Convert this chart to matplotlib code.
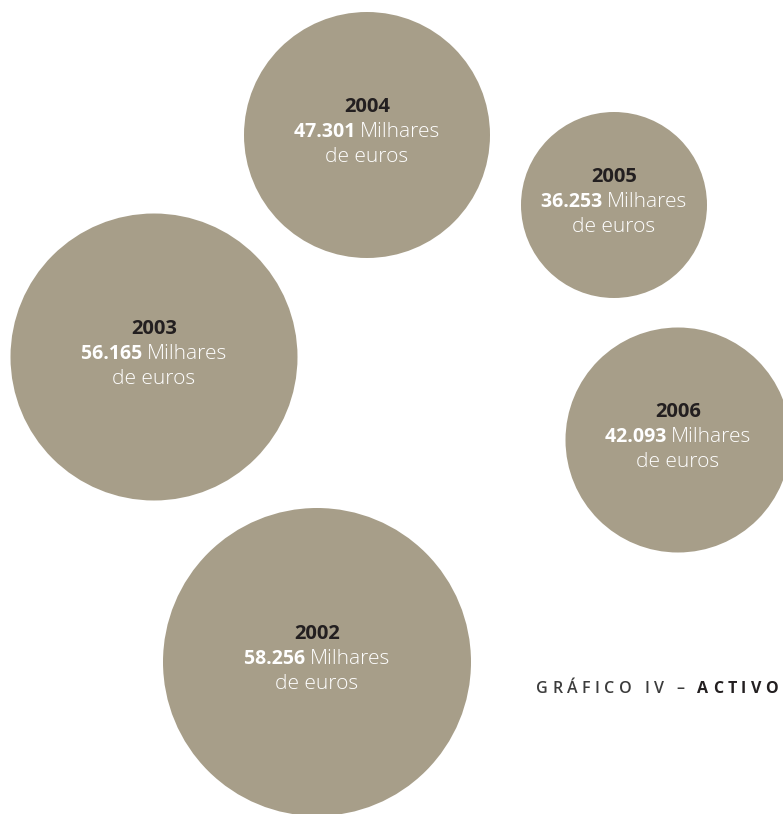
import matplotlib
matplotlib.use("Agg")
import matplotlib.pyplot as plt
from matplotlib.patches import Circle

# Data
years = ["2002", "2003", "2004", "2005", "2006"]
values = ["58.256", "56.165", "47.301", "36.253", "42.093"]
unit_line1 = "Milhares"
unit_line2 = "de euros"
title_plain = "GRÁFICO IV – "
title_bold = "ACTIVO"

# Layout (pixels, y down)
centers = [(317, 662), (154, 357), (367, 135), (614, 205), (678, 440)]
radii = [154, 143.5, 123, 93, 112.5]

FILL = "#a79e89"
DARK = "#231f20"
FONT = "Open Sans"

W, H = 783, 814
fig = plt.figure(figsize=(W / 100, H / 100), dpi=100)
ax = fig.add_axes([0, 0, 1, 1])
ax.set_xlim(0, W)
ax.set_ylim(H, 0)
ax.set_aspect("equal")
ax.axis("off")

renderer = fig.canvas.get_renderer()


def text_width(t):
    bb = t.get_window_extent(renderer=renderer)
    return bb.width


def mixed_line(x, y, parts):
    # parts: list of (string, kwargs); centered at x
    objs = []
    for s, kw in parts:
        objs.append(ax.text(0, y, s, ha="left", va="center", family=FONT, **kw))
    widths = [text_width(o) for o in objs]
    start = x - sum(widths) / 2.0
    for o, w in zip(objs, widths):
        o.set_x(start)
        start += w


for yr, val, (cx, cy), r in zip(years, values, centers, radii):
    ax.add_patch(Circle((cx, cy), r, facecolor=FILL, edgecolor="none"))
    ax.text(cx, cy - 28, yr, ha="center", va="center", family=FONT,
            fontsize=14.5, fontweight="bold", color=DARK)
    mixed_line(cx, cy - 3, [(val + " ", dict(fontsize=14, fontweight="bold", color="white")),
                            (unit_line1, dict(fontsize=15, fontweight="light", color="white"))])
    ax.text(cx, cy + 22, unit_line2, ha="center", va="center", family=FONT,
            fontsize=15, fontweight="light", color="white")

# Title with letter spacing, right aligned
chars = [(c, "semibold", "#3c3c3c") for c in title_plain] + \
        [(c, "bold", DARK) for c in title_bold]
track = 4.4
objs = []
for c, wgt, col in chars:
    objs.append(ax.text(0, 689, c, ha="left", va="center", family=FONT,
                        fontsize=11.5, fontweight=wgt, color=col))
widths = [text_width(o) if o.get_text() != " " else 4 for o in objs]
total = sum(widths) + track * (len(objs) - 1)
x = 778 - total
for o, w in zip(objs, widths):
    o.set_x(x)
    x += w + track

fig.savefig("out.png", dpi=100, facecolor="white")
